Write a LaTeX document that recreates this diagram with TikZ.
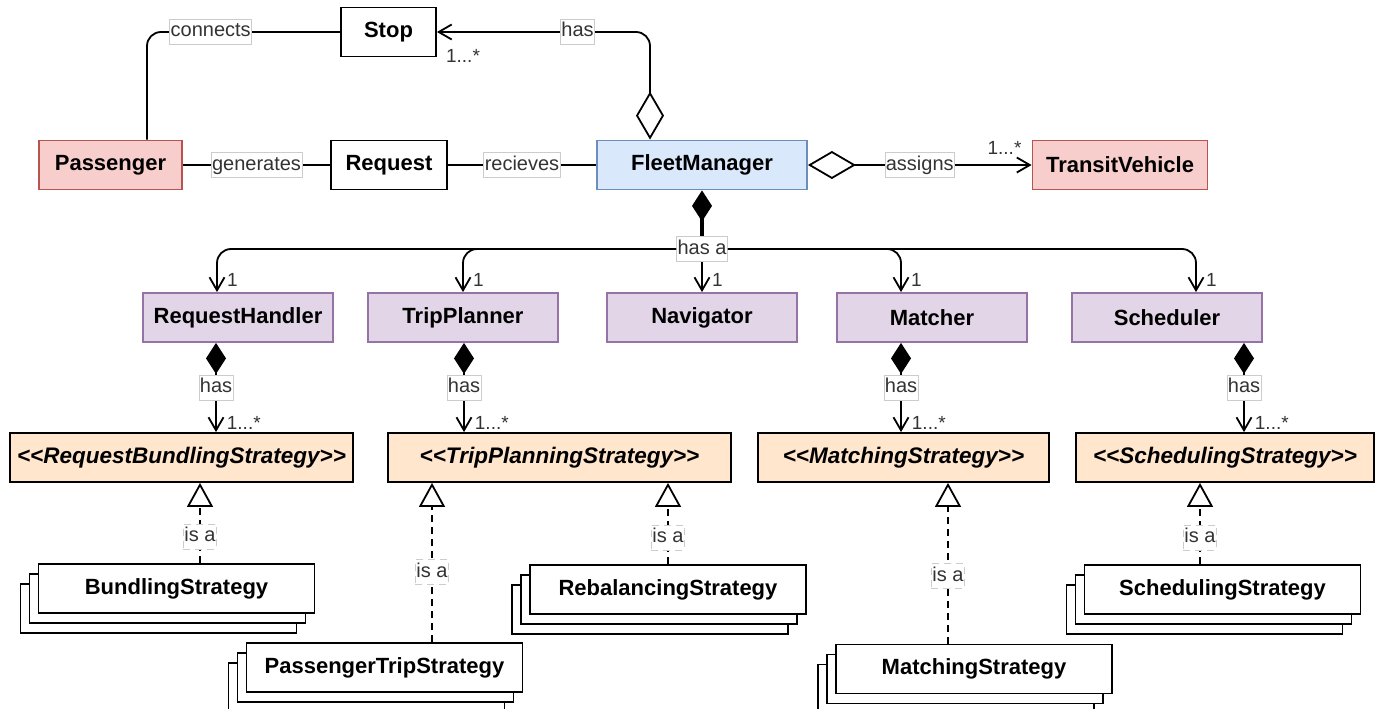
\documentclass[tikz,border=0pt]{standalone}
\usepackage{fontspec}
\setmainfont{Liberation Sans}
\usetikzlibrary{arrows.meta,shadows}

\definecolor{pinkfill}{HTML}{F8CECC}
\definecolor{pinkline}{HTML}{B85450}
\definecolor{bluefill}{HTML}{DAE8FC}
\definecolor{blueline}{HTML}{6C8EBF}
\definecolor{purplefill}{HTML}{E1D5E7}
\definecolor{purpleline}{HTML}{9673A6}
\definecolor{orangefill}{HTML}{FFE6CC}

\tikzset{
  cls/.style={draw, line width=1.8pt, minimum height=49pt, inner sep=0pt,
    font=\fontsize{22}{24}\selectfont\bfseries},
  actor/.style={cls, fill=pinkfill, draw=pinkline},
  manager/.style={cls, fill=bluefill, draw=blueline},
  module/.style={cls, fill=purplefill, draw=purpleline, minimum width=190pt},
  iface/.style={cls, fill=orangefill, font=\fontsize{22.5}{24}\selectfont\bfseries\itshape},
  impl/.style={cls, fill=white, minimum width=276pt,
    copy shadow={shadow xshift=-18pt, shadow yshift=-20pt, fill=white, draw=black, line width=1.8pt},
    copy shadow={shadow xshift=-9pt, shadow yshift=-10pt, fill=white, draw=black, line width=1.8pt}},
  lbl/.style={sharp corners, fill=white, draw=black!20, line width=0.6pt, inner xsep=1pt, inner ysep=3pt,
    text height=14.5pt, text depth=4.5pt, font=\fontsize{20}{22}\selectfont, text=black!80},
  mult/.style={font=\fontsize{19}{21}\selectfont, text=black!80, inner sep=0pt},
  conn/.style={line width=1.8pt},
  assoc/.style={conn, -{Straight Barb[length=13pt,width=15pt]}},
  aggr/.style={conn, {Diamond[length=48pt,width=28pt,fill=white]}-{Straight Barb[length=13pt,width=15pt]}},
  comp/.style={conn, {Diamond[length=31pt,width=20pt]}-{Straight Barb[length=13pt,width=15pt]}},
  real/.style={conn, dash pattern=on 7pt off 5pt, -{Triangle[length=24pt,width=26pt,fill=white]}}
}

\begin{document}
\begin{tikzpicture}[x=1pt,y=-1pt]
\useasboundingbox (0,0) rectangle (1386,709);

% top row
\node[cls, minimum width=95pt] (stop) at (388.5,32) {Stop};
\node[actor, minimum width=143pt] (pass) at (110.5,165) {Passenger};
\node[cls, minimum width=116pt] (req) at (389,165) {Request};
\node[manager, minimum width=210pt] (fm) at (702,165) {FleetManager};
\node[actor, minimum width=175pt] (tv) at (1120,165) {TransitVehicle};

% modules
\foreach \nm/\x/\txt in {rh/238/RequestHandler, tp/463/TripPlanner, nav/702/Navigator, mat/932/Matcher, sch/1167/Scheduler}
  \node[module] (\nm) at (\x,317.5) {\txt};

% strategy interfaces
\node[iface, minimum width=343pt] (rbs) at (181.5,457.5) {<\kern0pt<RequestBundlingStrategy>\kern0pt>};
\node[iface, minimum width=343pt] (tps) at (559.5,457.5) {<\kern0pt<TripPlanningStrategy>\kern0pt>};
\node[iface, minimum width=291pt] (ms) at (903.5,457.5) {<\kern0pt<MatchingStrategy>\kern0pt>};
\node[iface, minimum width=298pt] (ss) at (1225,457.5) {<\kern0pt<SchedulingStrategy>\kern0pt>};

% implementations
\node[impl] (bund) at (176.5,588.5) {BundlingStrategy};
\node[impl] (ptrip) at (384.5,667.5) {PassengerTripStrategy};
\node[impl] (rebal) at (668,589.5) {RebalancingStrategy};
\node[impl] (mstrat) at (974,669) {MatchingStrategy};
\node[impl] (sstrat) at (1222.5,589.5) {SchedulingStrategy};

% associations, top row
\draw[conn, rounded corners=14pt] ([xshift=36.5pt]pass.north) |- node[lbl, pos=0.665] {connects} (stop.west);
\draw[aggr, rounded corners=14pt] ([xshift=-52pt]fm.north) |- node[lbl, pos=0.67] {has} (stop.east);
\node[mult, anchor=north west] at ([xshift=9pt,yshift=-17pt]stop.east) {1...*};
\draw[conn] (pass) -- node[lbl] {generates} (req);
\draw[conn] (req) -- node[lbl] {recieves} (fm);
\draw[aggr] (fm) -- node[lbl] {assigns} (tv);
\node[mult, anchor=south east] at ([xshift=-10pt,yshift=10pt]tv.west) {1...*};

% fleet manager owns the modules
\node[lbl] (hasa) at (702,249) {has a};
\draw[line width=3.6pt, {Diamond[length=31pt,width=20pt]}-] (fm.south) -- (hasa.north);
\draw[assoc] (hasa) -- (nav);
\draw[assoc, rounded corners=14pt] (hasa.west) -| ([xshift=-21pt]rh.north);
\draw[assoc, rounded corners=14pt] (hasa.west) -| (tp.north);
\draw[assoc, rounded corners=14pt] (hasa.east) -| ([xshift=-31pt]mat.north);
\draw[assoc, rounded corners=14pt] (hasa.east) -| ([xshift=29pt]sch.north);
\foreach \nm/\dx in {rh/-21, tp/0, nav/0, mat/-31, sch/29}
  \node[mult, anchor=south west] at ([xshift=\dx pt+10pt,yshift=5pt]\nm.north) {1};

% modules use strategies
\foreach \up/\down/\dx in {rh/rbs/-22, tp/tps/1, mat/ms/-31, sch/ss/77}
  \draw[comp] ([xshift=\dx pt]\up.south) -- node[lbl] {has} ([xshift=\dx pt]\up.south |- \down.north)
    node[mult, anchor=south west, xshift=10pt, yshift=2pt] {1...*};

% realizations
\foreach \sub/\sup/\dx/\p in {bund/rbs/23.5/0.33, ptrip/tps/47.5/0.44, rebal/tps/0/0.33, mstrat/ms/-26/0.42, sstrat/ss/-22.5/0.33}
  \draw[real] ([xshift=\dx pt]\sub.north) -- node[lbl, pos=\p] {is a} ([xshift=\dx pt]\sub.north |- \sup.south);
\end{tikzpicture}
\end{document}
